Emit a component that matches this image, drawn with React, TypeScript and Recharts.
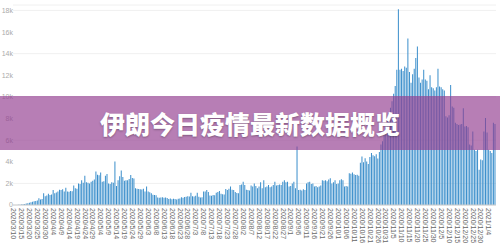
import { BarChart, Bar, XAxis, YAxis, CartesianGrid } from 'recharts';

// daily new cases, 2020/3/10 – 2021/1/8, split by month
const marchCases = [
  0, 4, 8, 15, 25, 40, 60, 90, 130, 170, 210, 260, 300, 340, 380, 420, 620, 500, 560, 1080, 820, 870,
];
const aprilCases = [
  1050, 920, 960, 1390, 1080, 1150, 1250, 1420, 1380, 1450, 1240, 1600, 1250, 1230, 1300, 1280, 1800,
  1550, 1500, 2000, 1950, 2300, 2050, 2700, 2100, 2050, 2000, 2160, 2250, 2350,
];
const mayCases = [
  3100, 2800, 2750, 3000, 2150, 2200, 2700, 2870, 2000, 1950, 2100, 2050, 4020, 1750, 2300, 2650, 3200,
  2600, 2250, 2300, 2280, 2400, 2780, 2500, 2450, 1550, 1500, 1480, 1450, 1430, 1500,
];
const juneCases = [
  1260, 1700, 1250, 1180, 1080, 950, 930, 900, 700, 680, 690, 720, 660, 700, 640, 560, 600, 540, 580,
  560, 520, 570, 600, 710, 680, 740, 760, 800, 780, 1140,
];
const julyCases = [
  820, 790, 850, 1140, 760, 700, 720, 1240, 1250, 1390, 1200, 880, 860, 930, 900, 1140, 1200, 1300,
  1050, 990, 980, 1480, 1380, 1500, 1700, 1420, 1390, 1200, 1100, 1080, 1850,
];
const augustCases = [
  1900, 2160, 1850, 1400, 1390, 1350, 1800, 1700, 2000, 1750, 1550, 1700, 2100, 1550, 2300, 1650, 1700,
  1850, 1650, 1700, 1850, 2160, 1800, 1850, 1900, 1850, 2160, 2300, 2100, 2150, 1700,
];
const septemberCases = [
  1750, 2000, 2160, 1550, 5400, 1390, 1400, 1350, 1450, 1380, 2000, 2100, 2160, 1950, 2000, 1700, 1750,
  1650, 1700, 1800, 2300, 2250, 2300, 2200, 2350, 2470, 2000, 2100, 2300, 1950,
];
const octoberCases = [
  2000, 2300, 2380, 2300, 1700, 1750, 1700, 2940, 2900, 3000, 2850, 2780, 2800, 2700, 3900, 4480, 3950,
  4330, 4020, 3800, 4450, 4800, 4600, 4500, 4700, 4300, 4900, 5600, 5900, 6500, 7200,
];
const novemberCases = [
  7800, 8500, 9000, 9600, 10300, 11000, 12500, 18100, 12500, 12600, 12400, 12800, 12700, 15400, 12300,
  11300, 12100, 12600, 13600, 14660, 11800, 11300, 11600, 12500, 11600, 11500, 10700, 12000, 10900, 10800,
];
const decemberCases = [
  10600, 10900, 12600, 10950, 10900, 10700, 10600, 8200, 8100, 8300, 11100, 9100, 9000, 7600, 7500, 7400,
  7450, 7500, 8950, 7250, 7300, 7200, 5600, 5500, 6800, 5100, 5000, 5100, 3250, 4200, 4150,
];
const januaryCases = [6800, 8050, 6700, 5100, 5000, 4800, 7600, 7500];

const yTicks = [0, 2000, 4000, 6000, 8000, 10000, 12000, 14000, 16000, 18000];

const cases = [
  ...marchCases,
  ...aprilCases,
  ...mayCases,
  ...juneCases,
  ...julyCases,
  ...augustCases,
  ...septemberCases,
  ...octoberCases,
  ...novemberCases,
  ...decemberCases,
  ...januaryCases,
];

// one category per day starting 2020/3/10
const dayLabel = (i: number) => {
  const d = new Date(Date.UTC(2020, 2, 10 + i));
  return `${d.getUTCFullYear()}/${d.getUTCMonth() + 1}/${d.getUTCDate()}`;
};

const data = cases.map((v, i) => ({ date: dayLabel(i), cases: v }));

const DateTick = (props: any) => {
  const { x, y, payload } = props;
  return (
    <text
      x={0}
      y={0}
      transform={`translate(${x},${y + 1}) rotate(90)`}
      fontSize={7}
      fill='#666'
      textAnchor='start'
      dominantBaseline='central'
    >
      {payload.value}
    </text>
  );
};

const App = () => {
  return (
    <div
      style={{
        position: 'absolute',
        left: 0,
        top: 0,
        width: 500,
        height: 247,
        background: '#fff',
        overflow: 'hidden',
        fontFamily: '"Liberation Sans", Arial, sans-serif',
      }}
    >
      <BarChart
        width={500}
        height={247}
        data={data}
        margin={{ top: 5, right: 4, left: 0, bottom: 0 }}
        barCategoryGap='4%'
      >
        <CartesianGrid vertical={false} stroke='#f0f0f0' />
        <XAxis
          dataKey='date'
          interval={4}
          height={42}
          tickLine={false}
          tickSize={0}
          tickMargin={2}
          axisLine={{ stroke: '#ccc' }}
          tick={<DateTick />}
        />
        <YAxis
          width={13}
          domain={[0, 18500]}
          ticks={yTicks}
          tickFormatter={(v: number) => (v === 0 ? '0' : `${v / 1000}k`)}
          axisLine={false}
          tickLine={false}
          tickSize={0}
          tickMargin={0}
          tick={{ fontSize: 7, fill: '#aaa' }}
        />
        <Bar dataKey='cases' fill='#3a8ecb' isAnimationActive={false} />
      </BarChart>
      <div
        style={{
          position: 'absolute',
          left: 0,
          top: 96,
          width: 500,
          height: 54,
          background: 'rgba(147, 62, 145, 0.67)',
          display: 'flex',
          alignItems: 'center',
          justifyContent: 'center',
        }}
      >
        <span
          style={{
            color: '#fff',
            fontSize: 25,
            fontWeight: 900,
            fontFamily: '"Noto Sans CJK SC", sans-serif',
            textShadow: '0 1px 2px rgba(0,0,0,0.3)',
            lineHeight: 1,
          }}
        >
          伊朗今日疫情最新数据概览
        </span>
      </div>
    </div>
  );
};

export default App;
